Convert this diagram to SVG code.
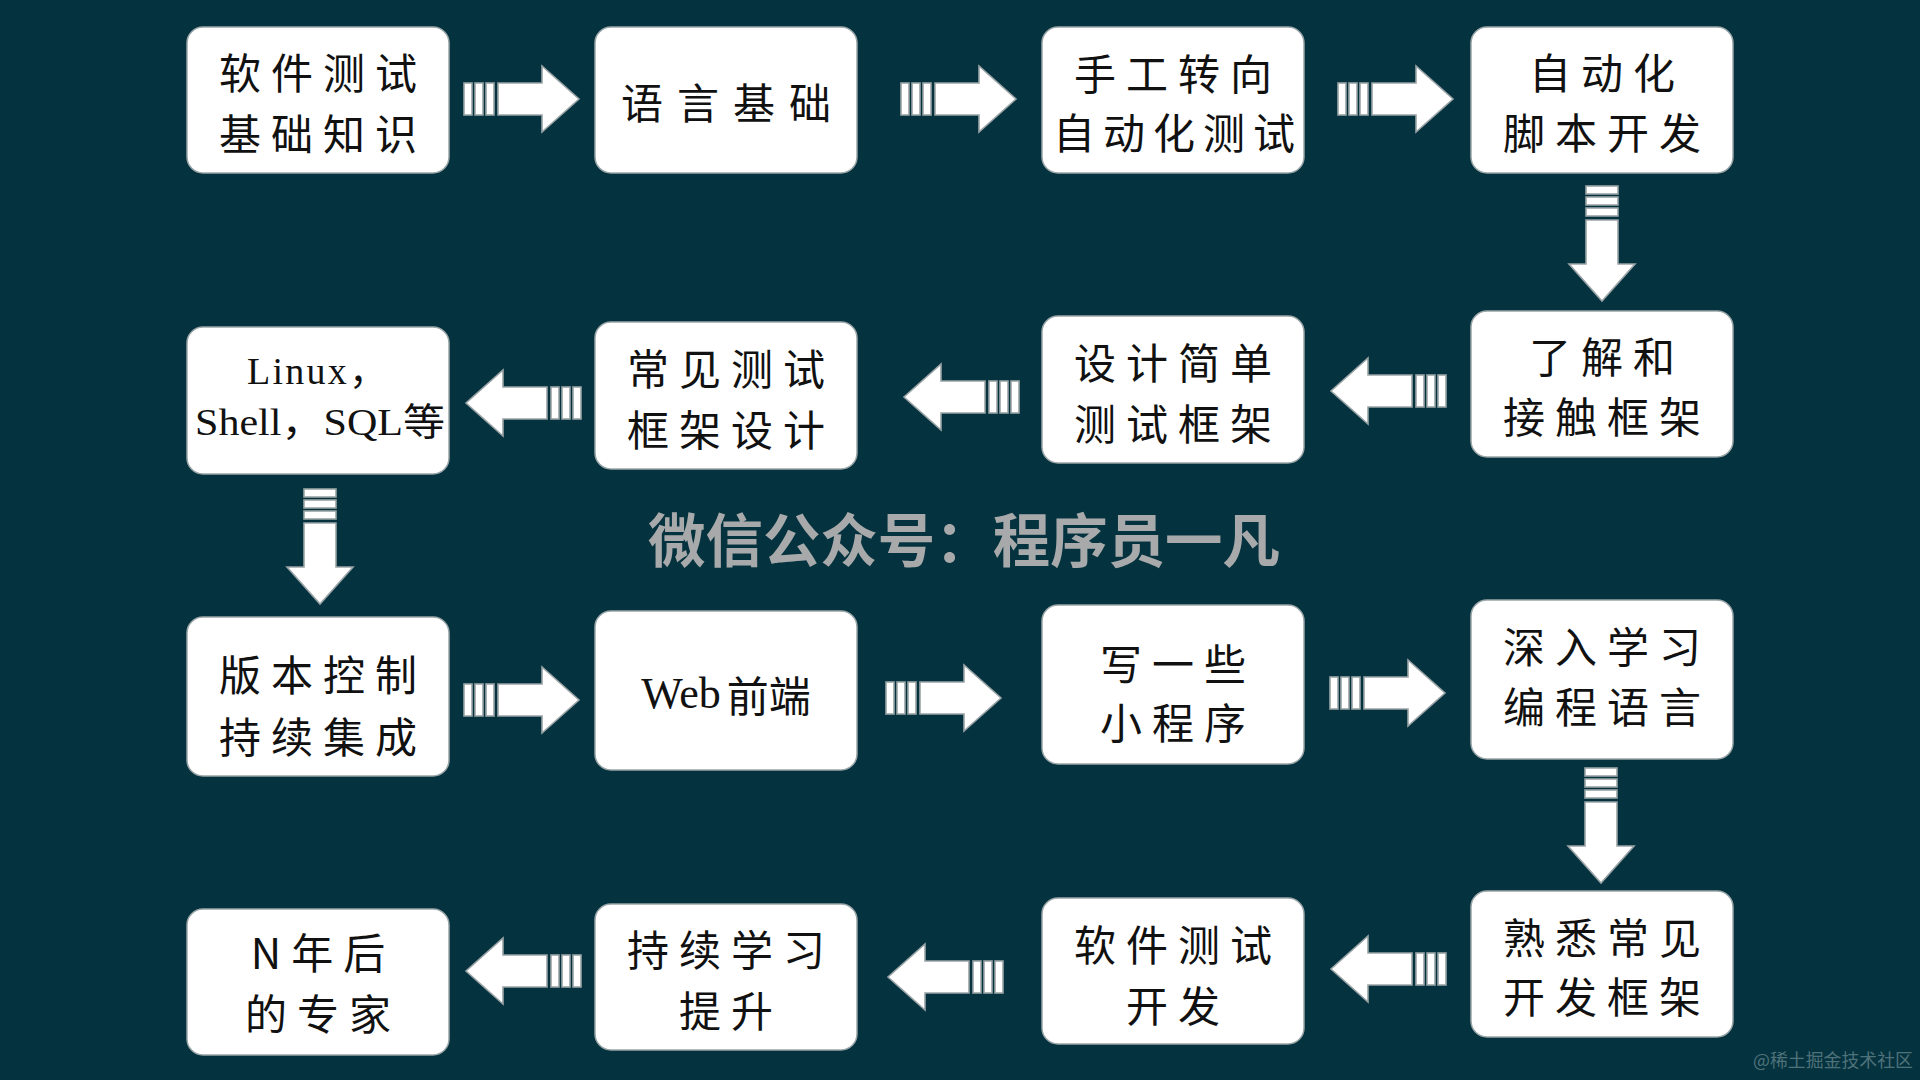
<svg xmlns="http://www.w3.org/2000/svg" xmlns:xlink="http://www.w3.org/1999/xlink" width="1920" height="1080" viewBox="0 0 1920 1080">
<style>
.box{fill:#ffffff;stroke:#9aa5a8;stroke-width:1.5}
.t{font-family:"Noto Sans CJK SC","Noto Sans CJK TC",sans-serif;font-size:42px;fill:#111;text-anchor:middle;dominant-baseline:central;letter-spacing:10px}
.m{font-family:"Liberation Serif","Noto Sans CJK SC",serif;font-size:38px;fill:#111;dominant-baseline:central}
.arr{fill:#ffffff;stroke:#9aa3a6;stroke-width:1.6}
.wm{font-family:"Noto Sans CJK SC",sans-serif;font-weight:700;font-size:58px;fill:#a8a9aa}
.credit{font-family:"Noto Sans CJK SC",sans-serif;font-size:18px;fill:#4f7179}
</style>
<defs>
<g id="arrowR">
<rect class="arr" x="0" y="-16" width="8" height="32"/>
<rect class="arr" x="11" y="-16" width="8" height="32"/>
<rect class="arr" x="22" y="-16" width="8" height="32"/>
<path class="arr" d="M34,-16 H78 V-33 L115,0 L78,33 V16 H34 Z"/>
</g>
</defs>
<rect width="1920" height="1080" fill="#04333f"/>

<g id="connectors">
<use href="#arrowR" transform="translate(464,99)"/>
<use href="#arrowR" transform="translate(901,99)"/>
<use href="#arrowR" transform="translate(1338,99)"/>
<use href="#arrowR" transform="translate(1602,186) rotate(90)"/>
<use href="#arrowR" transform="translate(1446,391) scale(-1,1)"/>
<use href="#arrowR" transform="translate(1019,397) scale(-1,1)"/>
<use href="#arrowR" transform="translate(581,403) scale(-1,1)"/>
<use href="#arrowR" transform="translate(320,489) rotate(90)"/>
<use href="#arrowR" transform="translate(464,700)"/>
<use href="#arrowR" transform="translate(886,698)"/>
<use href="#arrowR" transform="translate(1330,693)"/>
<use href="#arrowR" transform="translate(1601,768) rotate(90)"/>
<use href="#arrowR" transform="translate(1446,969) scale(-1,1)"/>
<use href="#arrowR" transform="translate(1003,977) scale(-1,1)"/>
<use href="#arrowR" transform="translate(581,971) scale(-1,1)"/>
</g>

<g id="n1"><rect class="box" x="187" y="27" width="262" height="146" rx="16"/>
<text class="t" x="323" y="70">软件测试</text><text class="t" x="323" y="131">基础知识</text></g>
<g id="n2"><rect class="box" x="595" y="27" width="262" height="146" rx="16"/>
<text class="t" x="733" y="100" style="letter-spacing:14px">语言基础</text></g>
<g id="n3"><rect class="box" x="1042" y="27" width="262" height="146" rx="16"/>
<text class="t" x="1178" y="71">手工转向</text><text class="t" x="1178" y="130" style="letter-spacing:8px">自动化测试</text></g>
<g id="n4"><rect class="box" x="1471" y="27" width="262" height="146" rx="16"/>
<text class="t" x="1607" y="70">自动化</text><text class="t" x="1607" y="130">脚本开发</text></g>

<g id="n5"><rect class="box" x="187" y="327" width="262" height="147" rx="16"/>
<text class="m" x="247" y="371" textLength="140" lengthAdjust="spacing">Linux，</text><text class="m" x="195" y="422" textLength="250" lengthAdjust="spacingAndGlyphs">Shell，SQL等</text></g>
<g id="n6"><rect class="box" x="595" y="322" width="262" height="147" rx="16"/>
<text class="t" x="731" y="366">常见测试</text><text class="t" x="731" y="427">框架设计</text></g>
<g id="n7"><rect class="box" x="1042" y="316" width="262" height="147" rx="16"/>
<text class="t" x="1178" y="360">设计简单</text><text class="t" x="1178" y="421">测试框架</text></g>
<g id="n8"><rect class="box" x="1471" y="311" width="262" height="146" rx="16"/>
<text class="t" x="1607" y="354">了解和</text><text class="t" x="1607" y="414">接触框架</text></g>

<g id="n9"><rect class="box" x="187" y="617" width="262" height="159" rx="16"/>
<text class="t" x="323" y="672">版本控制</text><text class="t" x="323" y="734">持续集成</text></g>
<g id="n10"><rect class="box" x="595" y="611" width="262" height="159" rx="16"/>
<text class="t" x="726" y="693" style="letter-spacing:0px"><tspan font-family="Liberation Serif" font-size="44">Web</tspan><tspan dx="6">前端</tspan></text></g>
<g id="n11"><rect class="box" x="1042" y="605" width="262" height="159" rx="16"/>
<text class="t" x="1178" y="661">写一些</text><text class="t" x="1178" y="720">小程序</text></g>
<g id="n12"><rect class="box" x="1471" y="600" width="262" height="159" rx="16"/>
<text class="t" x="1607" y="644">深入学习</text><text class="t" x="1607" y="704">编程语言</text></g>

<g id="n13"><rect class="box" x="187" y="909" width="262" height="146" rx="16"/>
<text class="t" x="323" y="950">N年后</text><text class="t" x="323" y="1011">的专家</text></g>
<g id="n14"><rect class="box" x="595" y="904" width="262" height="146" rx="16"/>
<text class="t" x="731" y="947">持续学习</text><text class="t" x="731" y="1008">提升</text></g>
<g id="n15"><rect class="box" x="1042" y="898" width="262" height="146" rx="16"/>
<text class="t" x="1178" y="942">软件测试</text><text class="t" x="1178" y="1003">开发</text></g>
<g id="n16"><rect class="box" x="1471" y="891" width="262" height="146" rx="16"/>
<text class="t" x="1607" y="935">熟悉常见</text><text class="t" x="1607" y="994">开发框架</text></g>

<text class="wm" x="648" y="562" textLength="632" lengthAdjust="spacingAndGlyphs">微信公众号：程序员一凡</text>
<text class="credit" x="1753" y="1067" textLength="160" lengthAdjust="spacingAndGlyphs">@稀土掘金技术社区</text>
</svg>
